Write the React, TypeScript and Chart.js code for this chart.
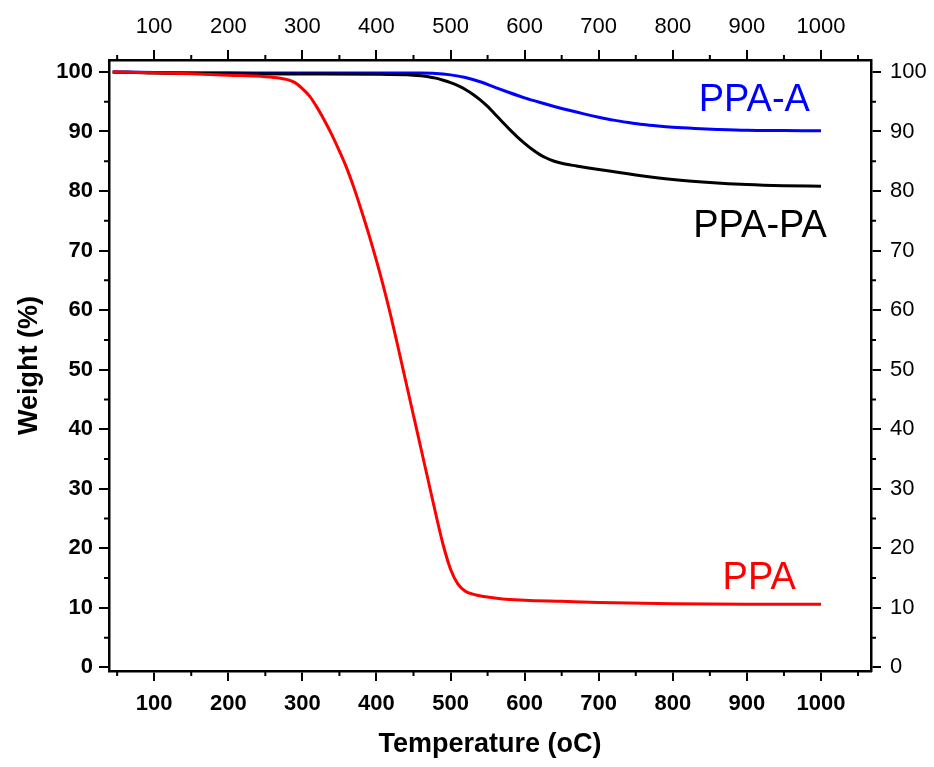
import React, { useEffect, useRef } from 'react';
import { Chart, registerables } from 'chart.js';

Chart.register(...registerables);

// ---- data ----
const TEMP_PPA = [44, 100, 150, 200, 250, 270, 280, 290, 300, 310, 320, 330, 340, 350, 360, 370, 380, 390, 400, 410, 420, 430, 440, 450, 460, 470, 480, 490, 500, 510, 520, 530, 545, 570, 600, 650, 700, 800, 900, 1000];
const WEIGHT_PPA = [100, 99.85, 99.7, 99.45, 99.2, 98.95, 98.7, 98.2, 97.2, 95.9, 94.0, 91.8, 89.4, 86.7, 83.8, 80.4, 76.6, 72.6, 68.3, 63.7, 58.7, 53.3, 47.8, 42.3, 36.8, 31.3, 25.8, 20.6, 16.5, 14.0, 12.8, 12.3, 11.9, 11.5, 11.3, 11.1, 10.9, 10.7, 10.6, 10.6];

const TEMP_PPAPA = [44, 100, 200, 300, 400, 450, 460, 470, 480, 490, 500, 510, 520, 530, 540, 550, 560, 570, 580, 590, 600, 610, 620, 630, 640, 650, 670, 700, 750, 800, 850, 900, 950, 1000];
const WEIGHT_PPAPA = [100, 99.8, 99.7, 99.65, 99.6, 99.45, 99.35, 99.2, 98.95, 98.6, 98.2, 97.7, 97.05, 96.25, 95.3, 94.2, 92.9, 91.6, 90.3, 89.1, 88.0, 87.0, 86.15, 85.5, 85.0, 84.65, 84.2, 83.6, 82.7, 81.95, 81.45, 81.1, 80.9, 80.8];

const TEMP_PPAA = [44, 100, 200, 300, 400, 460, 480, 500, 520, 540, 560, 580, 600, 620, 640, 660, 680, 700, 720, 740, 760, 780, 800, 830, 860, 900, 950, 1000];
const WEIGHT_PPAA = [100, 99.9, 99.85, 99.8, 99.8, 99.8, 99.75, 99.5, 99.05, 98.35, 97.4, 96.5, 95.65, 94.9, 94.2, 93.55, 92.95, 92.4, 91.9, 91.5, 91.15, 90.9, 90.7, 90.5, 90.35, 90.2, 90.15, 90.1];

const SERIES_NAMES = ['PPA', 'PPA-PA', 'PPA-A'];
const SERIES_COLORS = ['#ff0000', '#000000', '#0000ff'];

const X_TICKS = [100, 200, 300, 400, 500, 600, 700, 800, 900, 1000];
const X_MINOR = [50, 150, 250, 350, 450, 550, 650, 750, 850, 950, 1050];
const Y_TICKS = [0, 10, 20, 30, 40, 50, 60, 70, 80, 90, 100];
const Y_MINOR = [5, 15, 25, 35, 45, 55, 65, 75, 85, 95];
const X_MIN = 39;
const X_MAX = 1067.5;
const Y_MIN = -0.6;
const Y_MAX = 102;

const X_TITLE = 'Temperature (oC)';
const Y_TITLE = 'Weight (%)';

// curve labels (anchored in data coordinates, right-aligned at baseline)
const LABEL_TEXT = ['PPA-A', 'PPA-PA', 'PPA'];
const LABEL_COLOR = ['#0000ff', '#000000', '#ff0000'];
const LABEL_T = [985, 1008, 966];
const LABEL_W = [93.45, 72.3, 13.1];

const FONT = '"Liberation Sans", Arial, Helvetica, sans-serif';

const toPoints = (xs: number[], ys: number[]) => xs.map((x, i) => ({ x, y: ys[i] }));

const minorTicksPlugin = {
  id: 'minorTicks',
  afterDraw(chart: any) {
    const { ctx, chartArea, scales } = chart;
    const { left, right, top, bottom } = chartArea;
    const len = 5;
    ctx.save();
    ctx.strokeStyle = '#000';
    ctx.lineWidth = 2;
    ctx.beginPath();
    X_MINOR.forEach((v) => {
      const px = scales.x.getPixelForValue(v);
      ctx.moveTo(px, bottom);
      ctx.lineTo(px, bottom + len);
      ctx.moveTo(px, top);
      ctx.lineTo(px, top - len);
    });
    Y_MINOR.forEach((v) => {
      const py = scales.y.getPixelForValue(v);
      ctx.moveTo(left, py);
      ctx.lineTo(left - len, py);
      ctx.moveTo(right, py);
      ctx.lineTo(right + len, py);
    });
    ctx.stroke();
    ctx.restore();
  },
};

const curveLabelsPlugin = {
  id: 'curveLabels',
  afterDatasetsDraw(chart: any) {
    const { ctx, scales } = chart;
    ctx.save();
    ctx.font = `38px ${FONT}`;
    ctx.textAlign = 'right';
    ctx.textBaseline = 'alphabetic';
    LABEL_TEXT.forEach((t, i) => {
      ctx.fillStyle = LABEL_COLOR[i];
      ctx.fillText(t, scales.x.getPixelForValue(LABEL_T[i]), scales.y.getPixelForValue(LABEL_W[i]));
    });
    ctx.restore();
  },
};

const axisCommon = (bold: boolean, padding: number) => ({
  type: 'linear' as const,
  grid: { drawOnChartArea: false, drawTicks: true, tickLength: 10, tickWidth: 2, tickColor: '#000', lineWidth: 2, color: '#000' },
  border: { display: true, color: '#000', width: 2.5 },
  ticks: {
    color: '#000',
    font: { family: FONT, size: 22, weight: bold ? 'bold' : 'normal' },
    padding,
    autoSkip: false,
    maxRotation: 0,
    callback: (v: any) => String(v),
  },
});

export default function App() {
  const ref = useRef<HTMLCanvasElement>(null);

  useEffect(() => {
    if (!ref.current) return;
    const datasets = [
      { label: SERIES_NAMES[0], data: toPoints(TEMP_PPA, WEIGHT_PPA) },
      { label: SERIES_NAMES[1], data: toPoints(TEMP_PPAPA, WEIGHT_PPAPA) },
      { label: SERIES_NAMES[2], data: toPoints(TEMP_PPAA, WEIGHT_PPAA) },
    ].map((d, i) => ({
      ...d,
      borderColor: SERIES_COLORS[i],
      backgroundColor: SERIES_COLORS[i],
      borderWidth: 3,
      pointRadius: 0,
      fill: false,
      cubicInterpolationMode: 'monotone' as const,
      xAxisID: 'x',
      yAxisID: 'y',
    }));

    const chart = new Chart(ref.current, {
      type: 'line',
      data: { datasets },
      options: {
        animation: false,
        responsive: true,
        maintainAspectRatio: false,
        layout: { padding: 0 },
        plugins: { legend: { display: false }, tooltip: { enabled: false } },
        scales: {
          x: {
            ...axisCommon(true, 10),
            position: 'bottom',
            min: X_MIN,
            max: X_MAX,
            afterBuildTicks: (s: any) => { s.ticks = X_TICKS.map((value) => ({ value })); },
            afterFit: (s: any) => { s.height = 96; },
            title: { display: true, text: X_TITLE, color: '#000', font: { family: FONT, size: 27, weight: 'bold' }, padding: { top: 0, bottom: 6 } },
          },
          x2: {
            ...axisCommon(false, 10),
            position: 'top',
            min: X_MIN,
            max: X_MAX,
            afterBuildTicks: (s: any) => { s.ticks = X_TICKS.map((value) => ({ value })); },
            afterFit: (s: any) => { s.height = 60; },
          },
          y: {
            ...axisCommon(true, 6),
            position: 'left',
            min: Y_MIN,
            max: Y_MAX,
            afterBuildTicks: (s: any) => { s.ticks = Y_TICKS.map((value) => ({ value })); },
            afterFit: (s: any) => { s.width = 109; },
            title: { display: true, text: Y_TITLE, color: '#000', font: { family: FONT, size: 27, weight: 'bold' }, padding: { top: 13, bottom: 0 } },
          },
          y2: {
            ...axisCommon(false, 9),
            position: 'right',
            min: Y_MIN,
            max: Y_MAX,
            afterBuildTicks: (s: any) => { s.ticks = Y_TICKS.map((value) => ({ value })); },
            afterFit: (s: any) => { s.width = 63; },
          },
        },
      } as any,
      plugins: [minorTicksPlugin, curveLabelsPlugin],
    });
    return () => chart.destroy();
  }, []);

  return (
    <div style={{ position: 'absolute', left: 0, top: 0, width: 934, height: 767, background: '#fff' }}>
      <canvas ref={ref} />
    </div>
  );
}
